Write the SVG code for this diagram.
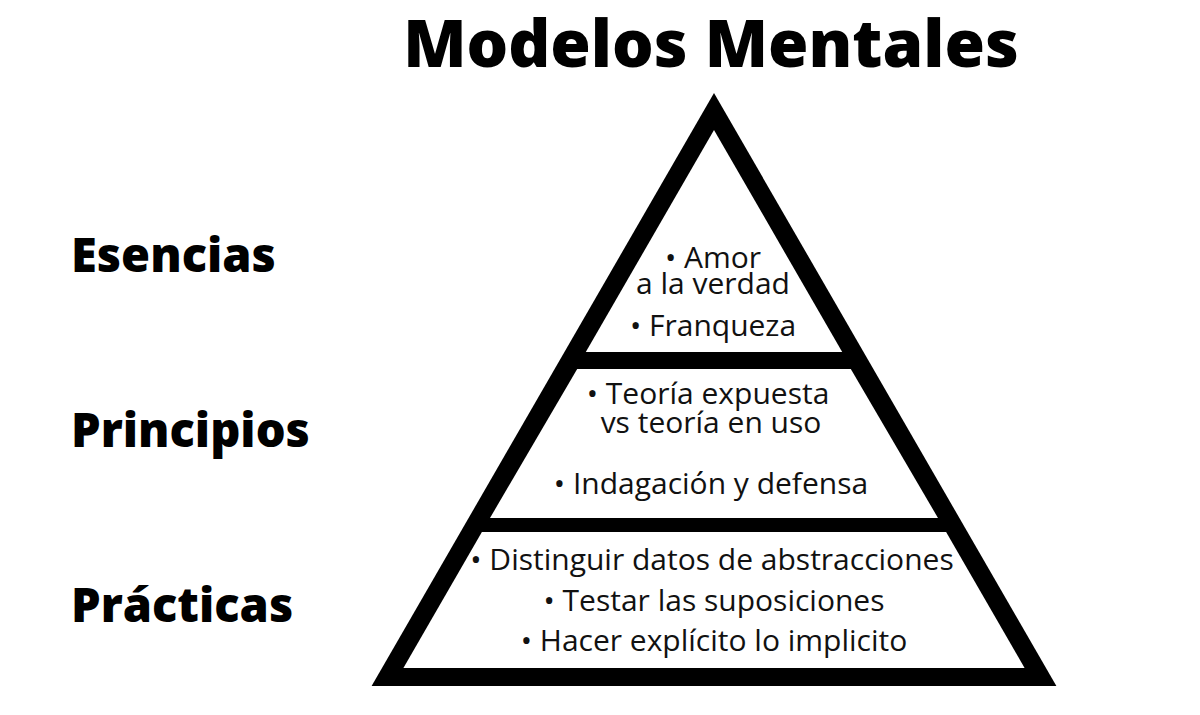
<svg xmlns="http://www.w3.org/2000/svg" width="1200" height="715" viewBox="0 0 1200 715">
<style>
.title{font-family:"Open Sans","Noto Sans",sans-serif;font-weight:800;fill:#000}
.lbl{font-family:"Open Sans","Noto Sans",sans-serif;font-weight:800;font-size:47px;fill:#000}
.body{font-family:"Open Sans","Noto Sans",sans-serif;font-weight:400;font-size:30px;fill:#111;text-anchor:middle}
</style>
<rect width="1200" height="715" fill="#fff"/>
<text class="title" x="711" y="67" font-size="65.5" text-anchor="middle">Modelos Mentales</text>
<g id="labels">
<text class="lbl" x="71" y="272">Esencias</text>
<text class="lbl" x="71" y="447">Principios</text>
<text class="lbl" x="71" y="622">Prácticas</text>
</g>
<g id="pyramid">
<polygon points="714,93 1056.4,686 371.6,686" fill="#000"/>
</g>
<g id="esencias">
<polygon points="714,130 842.2,352 585.8,352" fill="#fff"/>
<text class="body" x="713" y="268">• Amor</text>
<text class="body" x="713" y="294">a la verdad</text>
<text class="body" x="713" y="336">• Franqueza</text>
</g>
<g id="principios">
<polygon points="577.2,369 850.8,369 938,518 490,518" fill="#fff"/>
<text class="body" x="708" y="404">• Teoría expuesta</text>
<text class="body" x="711" y="433">vs teoría en uso</text>
<text class="body" x="711" y="494">• Indagación y defensa</text>
</g>
<g id="practicas">
<polygon points="481.9,532 946.1,532 1024.6,668 403.4,668" fill="#fff"/>
<text class="body" x="712" y="570">• Distinguir datos de abstracciones</text>
<text class="body" x="714" y="611">• Testar las suposiciones</text>
<text class="body" x="714" y="651">• Hacer explícito lo implicito</text>
</g>
<g id="connectors"></g>
</svg>
